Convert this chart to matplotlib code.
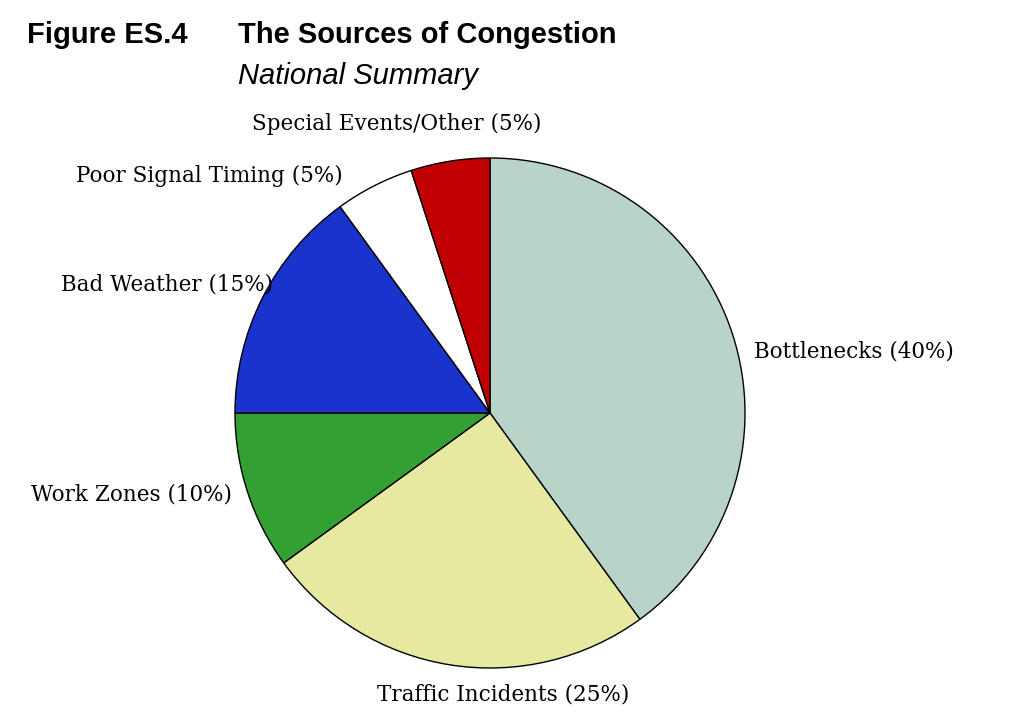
import matplotlib.pyplot as plt

# congestion sources, clockwise from 12 o'clock
sources = ['Bottlenecks', 'Traffic Incidents', 'Work Zones', 'Bad Weather',
           'Poor Signal Timing', 'Special Events/Other']
shares = [40, 25, 10, 15, 5, 5]
colours = ['#b8d4c9', '#e6e9a0', '#33a033', '#1a33cc', '#ffffff', '#c00000']


def main():
    W, H = 1024, 726
    fig = plt.figure(figsize=(W / 100, H / 100), dpi=100)

    # pie axes: centre (490, 413) px, radius 255 px
    cx, cy, r = 490, 413, 255
    ax = fig.add_axes([(cx - r) / W, (H - cy - r) / H, 2 * r / W, 2 * r / H])
    ax.pie(shares, colors=colours, startangle=90, counterclock=False,
           wedgeprops=dict(edgecolor='black', linewidth=1.0))
    ax.set_xlim(-1.0, 1.0)
    ax.set_ylim(-1.0, 1.0)

    # label placement in pixels (x, y, ha)
    spots = {
        'Bottlenecks': (754, 351, 'left'),
        'Traffic Incidents': (503, 694, 'center'),
        'Work Zones': (232, 494, 'right'),
        'Bad Weather': (273, 285, 'right'),
        'Poor Signal Timing': (343, 176, 'right'),
        'Special Events/Other': (397, 124, 'center'),
    }
    for name, pct in zip(sources, shares):
        x, y, ha = spots[name]
        fig.text(x / W, 1 - y / H, f'{name} ({pct}%)', ha=ha, va='center',
                 fontsize=15.5, family='DejaVu Serif')

    fig.text(27 / W, 1 - 35 / H, 'Figure ES.4', ha='left', va='center',
             fontsize=21, fontweight='bold', family='Liberation Sans')
    fig.text(238 / W, 1 - 35 / H, 'The Sources of Congestion', ha='left',
             va='center', fontsize=21, fontweight='bold',
             family='Liberation Sans')
    fig.text(238 / W, 1 - 76 / H, 'National Summary', ha='left', va='center',
             fontsize=21, style='italic', family='Liberation Sans')

    fig.savefig('out.png', dpi=100)


if __name__ == "__main__":
    main()
